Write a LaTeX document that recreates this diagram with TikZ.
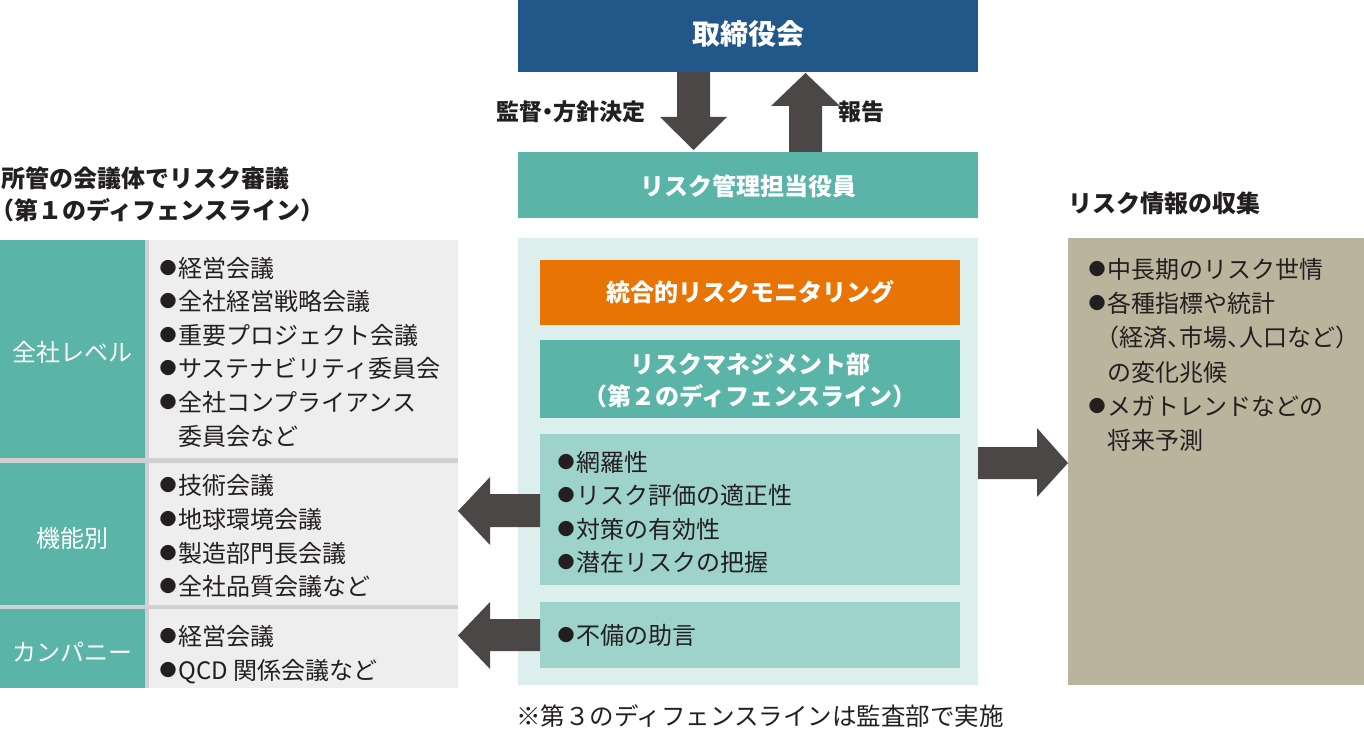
\documentclass[tikz,border=0pt]{standalone}
\usepackage{fontspec}
\setmainfont{Noto Sans CJK JP}
\newfontfamily\jphalt[RawFeature=+halt]{Noto Sans CJK JP}
\definecolor{cNavy}{HTML}{22578A}
\definecolor{cTeal}{HTML}{5BB4A8}
\definecolor{cPale}{HTML}{DCEFEC}
\definecolor{cLight}{HTML}{9DD3CB}
\definecolor{cOrange}{HTML}{E77405}
\definecolor{cTan}{HTML}{BAB49C}
\definecolor{cGray}{HTML}{EEEEEE}
\definecolor{cSep}{HTML}{D0D0D0}
\definecolor{cArrow}{HTML}{4B4747}
\definecolor{cText}{HTML}{231F20}
\tikzset{
  blk/.style={inner sep=0pt, outer sep=0pt, anchor=north west, draw=none},
  itm/.style={anchor=west, inner sep=0pt, text height=21pt, text depth=3pt,
              font=\fontsize{24}{24}\selectfont, text=cText},
  ttl/.style={inner sep=0pt, text height=21pt, text depth=3pt,
              font=\bfseries\fontsize{24}{24}\selectfont, text=cText},
  wttl/.style={ttl, text=white},
  wlbl/.style={inner sep=0pt, text height=21pt, text depth=3pt,
              font=\fontsize{24}{24}\selectfont, text=white},
  arr/.style={fill=cArrow},
}
\newcommand\dotmark{\makebox[21pt][l]{\hspace{2.5pt}\raisebox{2.6pt}{\fontsize{17}{17}\selectfont ●}}}
\newcommand\bitem[4]{\node[itm] (#1) at (#2,#3) {\dotmark#4};}
\newcommand\citem[4]{\node[itm] (#1) at (#2,#3) {#4};}
\begin{document}
\begin{tikzpicture}[x=1pt,y=-1pt]
\useasboundingbox (0,0) rectangle (1364,730);

% ---------- center column boxes ----------
\node[blk, fill=cNavy, minimum width=460pt, minimum height=72pt] (board) at (518,0) {};
\node[wttl, font=\bfseries\fontsize{28}{28}\selectfont] (boardT) at (board.center) {取締役会};

\node[blk, fill=cTeal, minimum width=460pt, minimum height=66pt] (officer) at (518,152) {};
\node[wttl] (officerT) at ([yshift=-1pt]officer.center) {リスク管理担当役員};

\node[blk, fill=cPale, minimum width=460pt, minimum height=447pt] (pale) at (518,238) {};
\node[blk, fill=cOrange, minimum width=420pt, minimum height=65pt] (monitor) at (540,260) {};
\node[wttl] (monitorT) at (750,292) {統合的リスクモニタリング};

\node[blk, fill=cTeal, minimum width=420pt, minimum height=78pt] (rmd) at (540,340) {};
\node[wttl] (rmdT1) at (750,364) {リスクマネジメント部};
\node[wttl] (rmdT2) at (750,396) {\jphalt（第２のディフェンスライン）};

\node[blk, fill=cLight, minimum width=420pt, minimum height=151pt] (list) at (540,434) {};
\bitem{c1}{555}{462}{網羅性}
\bitem{c2}{555}{495}{リスク評価の適正性}
\bitem{c3}{555}{529}{対策の有効性}
\bitem{c4}{555}{562}{潜在リスクの把握}

\node[blk, fill=cLight, minimum width=420pt, minimum height=66pt] (advice) at (540,602) {};
\bitem{c5}{555}{635}{不備の助言}

\node[itm, anchor=center, font=\fontsize{24.5}{24.5}\selectfont] (note) at (760,716) {※第３のディフェンスラインは監査部で実施};

% ---------- vertical arrows ----------
\fill[arr] (677,72) -- (710,72) -- (710,117) -- (727,117) -- (693.5,150) -- (660,117) -- (677,117) -- cycle;
\fill[arr] (789,152) -- (822,152) -- (822,106) -- (840,106) -- (805.5,73) -- (771,106) -- (789,106) -- cycle;
\node[ttl, font=\bfseries\fontsize{23}{23}\selectfont, anchor=east] (supT) at (646,112) {\jphalt 監督・方針決定};
\node[ttl, font=\bfseries\fontsize{23}{23}\selectfont, anchor=west] (repT) at (838,112) {報告};

% ---------- left panel ----------
\node[ttl, anchor=west] (lt1) at (1,178) {所管の会議体でリスク審議};
\node[ttl, anchor=west] (lt2) at (2,210) {\jphalt（第１のディフェンスライン）};

\fill[cSep] (0,240) rectangle (458,688);
\node[blk, fill=cTeal, minimum width=145pt, minimum height=218pt] (t1) at (0,240) {};
\node[blk, fill=cGray, minimum width=309pt, minimum height=218pt] (g1) at (149,240) {};
\node[blk, fill=cTeal, minimum width=145pt, minimum height=142pt] (t2) at (0,463) {};
\node[blk, fill=cGray, minimum width=309pt, minimum height=142pt] (g2) at (149,463) {};
\node[blk, fill=cTeal, minimum width=145pt, minimum height=79pt] (t3) at (0,609) {};
\node[blk, fill=cGray, minimum width=309pt, minimum height=79pt] (g3) at (149,609) {};

\node[wlbl] (t1T) at (72.5,352) {全社レベル};
\node[wlbl] (t2T) at (72.5,538) {機能別};
\node[wlbl] (t3T) at (72.5,652) {カンパニー};

\bitem{l1}{157}{268}{経営会議}
\bitem{l2}{157}{301}{全社経営戦略会議}
\bitem{l3}{157}{335}{重要プロジェクト会議}
\bitem{l4}{157}{368}{サステナビリティ委員会}
\bitem{l5}{157}{402}{全社コンプライアンス}
\citem{l6}{178}{436}{委員会など}
\bitem{l7}{157}{485}{技術会議}
\bitem{l8}{157}{519}{地球環境会議}
\bitem{l9}{157}{553}{製造部門長会議}
\bitem{l10}{157}{586}{全社品質会議など}
\bitem{l11}{157}{636}{経営会議}
\bitem{l12}{157}{670}{QCD 関係会議など}

% ---------- horizontal arrows ----------
\fill[arr] (540,494) -- (490,494) -- (490,477) -- (458,511) -- (490,545) -- (490,527) -- (540,527) -- cycle;
\fill[arr] (540,619) -- (490,619) -- (490,602) -- (458,635.5) -- (490,669) -- (490,651) -- (540,651) -- cycle;
\fill[arr] (978,447) -- (1037,447) -- (1037,428) -- (1068,463) -- (1037,497) -- (1037,479) -- (978,479) -- cycle;

% ---------- right panel ----------
\node[ttl] (rt) at (1164,203) {リスク情報の収集};
\node[blk, fill=cTan, minimum width=296pt, minimum height=447pt] (info) at (1068,238) {};
\bitem{r1}{1086}{269}{中長期のリスク世情}
\bitem{r2}{1086}{303}{各種指標や統計}
\citem{r3}{1107}{337}{\jphalt（経済、市場、人口など）}
\citem{r4}{1107}{372}{の変化兆候}
\bitem{r5}{1086}{406}{メガトレンドなどの}
\citem{r6}{1107}{440}{将来予測}
\end{tikzpicture}
\end{document}
